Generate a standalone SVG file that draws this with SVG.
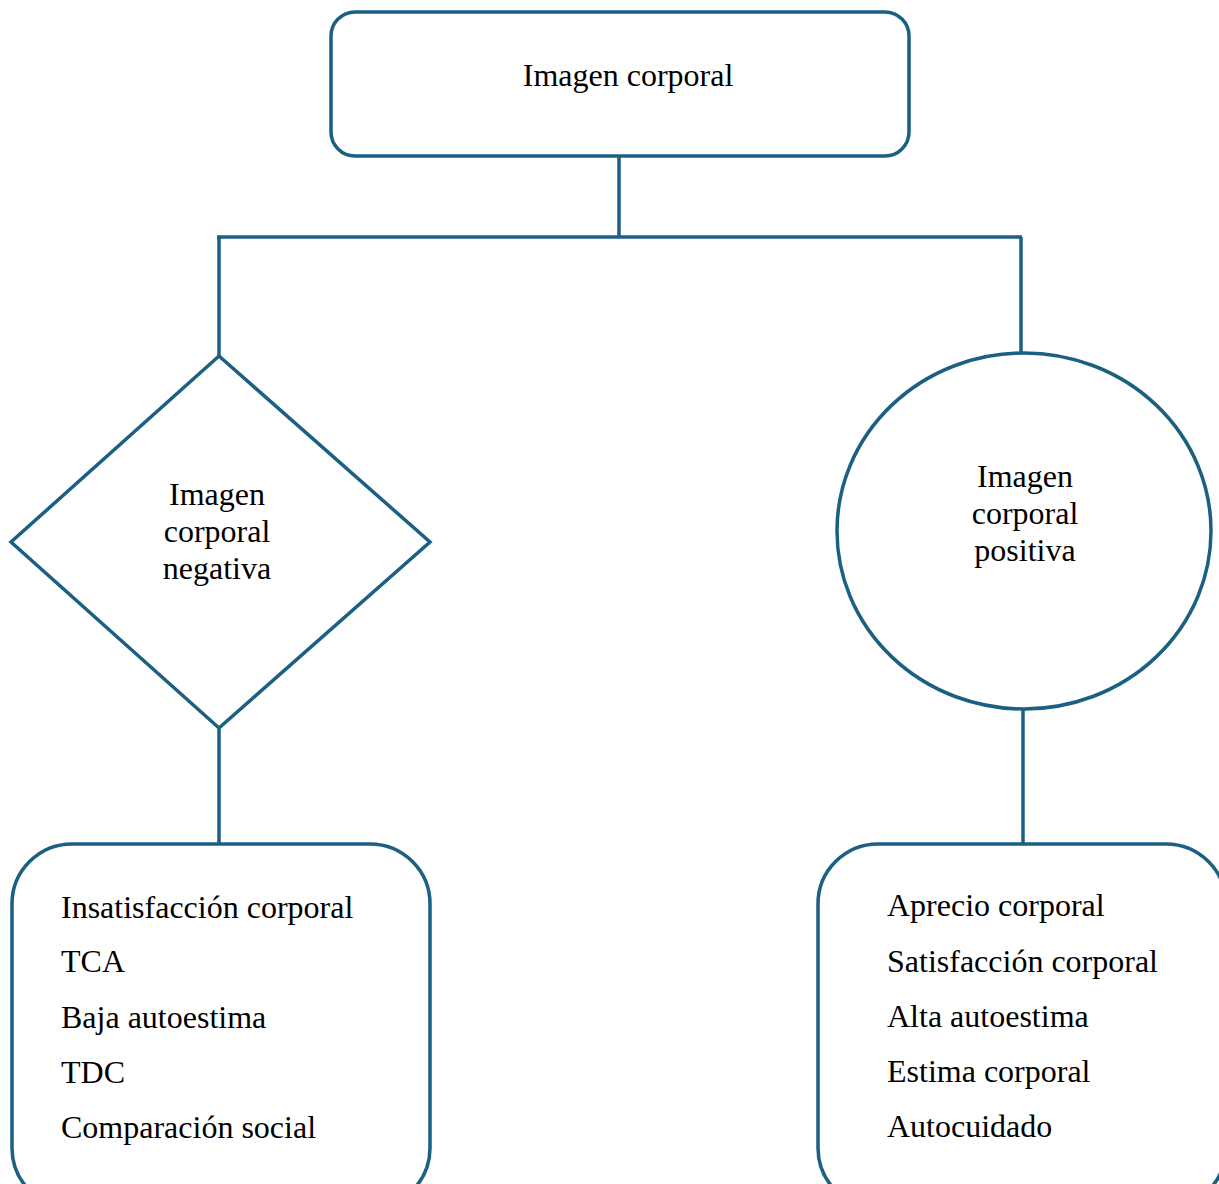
<svg xmlns="http://www.w3.org/2000/svg" width="1219" height="1184" viewBox="0 0 1219 1184">
<style>
.shape{fill:#ffffff;stroke:#1b5f82;stroke-width:3.5}
.conn{fill:none;stroke:#1b5f82;stroke-width:3.5}
text{font-family:"Liberation Serif","Times New Roman",serif;font-size:32px;fill:#000}
.c{text-anchor:middle}
</style>
<rect width="1219" height="1184" fill="#ffffff"/>
<g id="connectors">
<line class="conn" x1="619" y1="156" x2="619" y2="237"/>
<line class="conn" x1="217" y1="237" x2="1022" y2="237"/>
<line class="conn" x1="219" y1="237" x2="219" y2="356"/>
<line class="conn" x1="1021" y1="237" x2="1021" y2="353"/>
<line class="conn" x1="219" y1="728" x2="219" y2="844"/>
<line class="conn" x1="1023" y1="709" x2="1023" y2="844"/>
</g>
<g id="node-imagen-corporal">
<rect class="shape" x="331" y="12" width="578" height="144" rx="24"/>
<text class="c" x="628" y="86">Imagen corporal</text>
</g>
<g id="node-negativa">
<polygon class="shape" points="219,356 430,542 219,728 11,542"/>
<text class="c" x="217" y="505">Imagen</text>
<text class="c" x="217" y="542">corporal</text>
<text class="c" x="217" y="579">negativa</text>
</g>
<g id="node-positiva">
<ellipse class="shape" cx="1024" cy="531" rx="187" ry="178"/>
<text class="c" x="1025" y="487">Imagen</text>
<text class="c" x="1025" y="524">corporal</text>
<text class="c" x="1025" y="561">positiva</text>
</g>
<g id="node-lista-negativa">
<rect class="shape" x="12" y="844" width="418" height="364" rx="60"/>
<text x="61" y="918">Insatisfacción corporal</text>
<text x="61" y="972">TCA</text>
<text x="61" y="1028">Baja autoestima</text>
<text x="61" y="1083">TDC</text>
<text x="61" y="1138">Comparación social</text>
</g>
<g id="node-lista-positiva">
<rect class="shape" x="818" y="844" width="408" height="364" rx="60"/>
<text x="887" y="916">Aprecio corporal</text>
<text x="887" y="972">Satisfacción corporal</text>
<text x="887" y="1027">Alta autoestima</text>
<text x="887" y="1082">Estima corporal</text>
<text x="887" y="1137">Autocuidado</text>
</g>
</svg>
